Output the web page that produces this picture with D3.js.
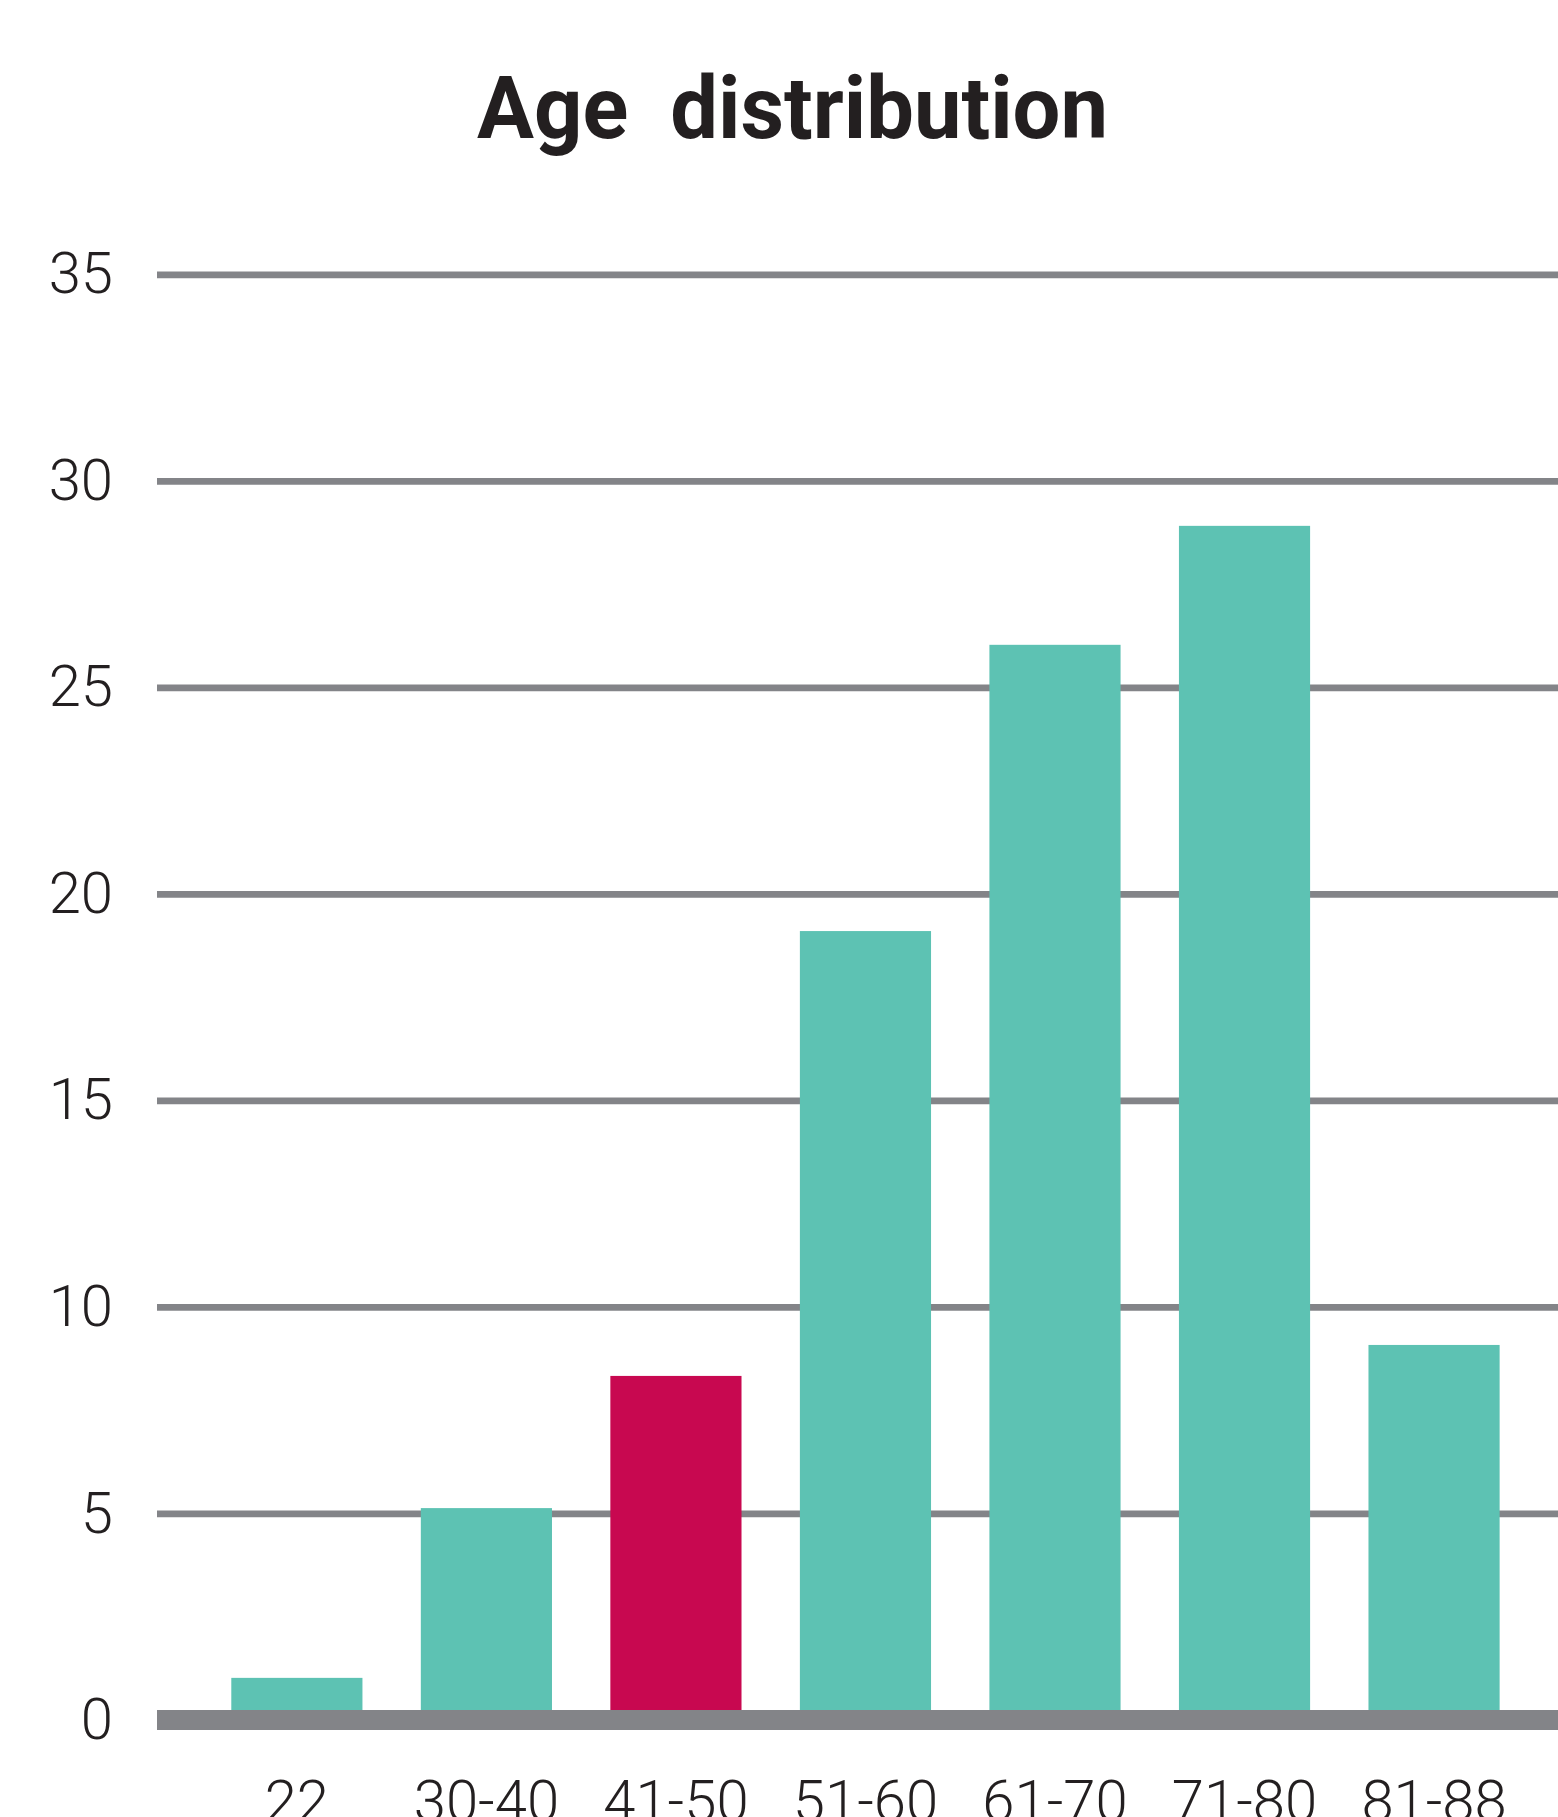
<!DOCTYPE html>
<html>
<head>
<meta charset="utf-8">
<script src="https://cdn.jsdelivr.net/npm/d3@7"></script>
<style>
  body { margin: 0; background: #ffffff; }
  svg { display: block; }
</style>
</head>
<body>
<script>
// chart data
var ageGroups = ["22", "30-40", "41-50", "51-60", "61-70", "71-80", "81-88"];
var shares = [1.02, 5.13, 8.33, 19.1, 26.03, 28.91, 9.08];
var highlightGroup = "41-50";
var yTicks = [0, 5, 10, 15, 20, 25, 30, 35];

var width = 1558;
var height = 1817;

var teal = "#5dc2b3";
var crimson = "#c80850";
var gridGrey = "#838488";
var ink = "#231f20";

var svg = d3.select("body")
			.append("svg")
			.attr("width", width)
			.attr("height", height);

var x = d3.scaleBand()
		  .domain(ageGroups)
		  .range([157, 1558])
		  .paddingInner(0.308)
		  .paddingOuter(0.35)
		  .align(0.56);

var y = d3.scaleLinear()
		  .domain([0, 35])
		  .range([1720, 274.3]);

// title
svg.append("text")
	.attr("x", 792.5)
	.attr("y", 138)
	.attr("text-anchor", "middle")
	.attr("font-family", "Roboto, 'DejaVu Sans', sans-serif")
	.attr("font-weight", 700)
	.attr("font-size", 88)
	.attr("fill", ink)
	.attr("textLength", 631)
	.attr("lengthAdjust", "spacingAndGlyphs")
	.style("white-space", "pre")
	.text("Age  distribution");

// gridlines + y labels
var yAxis = svg.append("g")
			.attr("transform", "translate(157,0)")
			.call(d3.axisLeft(y)
					.tickValues(yTicks)
					.tickSize(-(1558 - 157))
					.tickPadding(44));

yAxis.select(".domain").remove();
yAxis.selectAll(".tick line")
	.attr("stroke", gridGrey)
	.attr("stroke-width", function(d){ return d === 0 ? 0 : 6.7; });
yAxis.selectAll(".tick text")
	.attr("fill", ink)
	.attr("font-family", "Roboto, 'Open Sans', sans-serif")
	.attr("font-weight", 300)
	.attr("font-size", 58);

// bars
svg.append("g")
	.selectAll("rect")
	.data(shares)
	.enter()
	.append("rect")
	.attr("x", function(d, i){ return x(ageGroups[i]); })
	.attr("y", function(d){ return y(d); })
	.attr("width", x.bandwidth())
	.attr("height", function(d){ return y(0) - y(d); })
	.attr("fill", function(d, i){ return ageGroups[i] === highlightGroup ? crimson : teal; });

// thick baseline at zero
svg.append("line")
	.attr("x1", 157)
	.attr("x2", 1558)
	.attr("y1", y(0))
	.attr("y2", y(0))
	.attr("stroke", gridGrey)
	.attr("stroke-width", 20);

// x labels (cut by the bottom edge, as in the original)
var xAxis = svg.append("g")
			.attr("transform", "translate(0," + y(0) + ")")
			.call(d3.axisBottom(x).tickSize(0).tickPadding(60));

xAxis.select(".domain").remove();
xAxis.selectAll(".tick text")
	.attr("fill", ink)
	.attr("font-family", "Roboto, 'Open Sans', sans-serif")
	.attr("font-weight", 300)
	.attr("font-size", 58);
</script>
</body>
</html>
